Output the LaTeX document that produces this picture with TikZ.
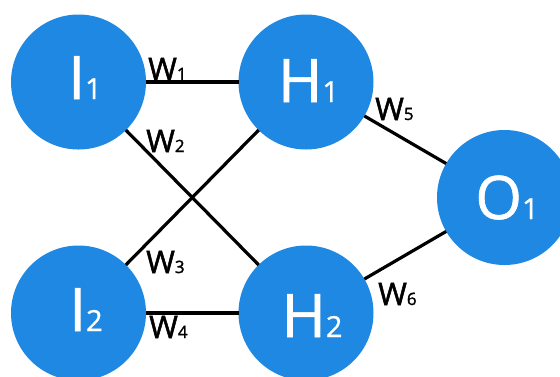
\documentclass[tikz,border=0pt]{standalone}
\usepackage{fontspec}
\setmainfont{Open Sans}
\newfontfamily\wfont[FakeBold=1.6]{Open Sans}
\newfontfamily\nfont[FakeBold=1.0]{Open Sans}
\definecolor{nodeblue}{RGB}{31,136,226}
\begin{document}
\begin{tikzpicture}[x=1pt,y=-1pt,
  neuron/.style={circle,fill=nodeblue,draw=none,minimum size=135pt,inner sep=0pt,outer sep=0pt},
  ntext/.style={text=white,anchor=base,inner sep=0pt,font=\nfont\fontsize{60}{60}\selectfont},
  wtext/.style={text=black,anchor=base west,inner sep=0pt,font=\wfont\fontsize{31}{31}\selectfont},
  conn/.style={line width=3.2pt,black}]
\useasboundingbox (0,0) rectangle (560,376);
\begin{scope}
\clip (0,0) rectangle (560,376);
\node[neuron] (i1) at (78.5,82) {};
\node[neuron] (h1) at (306,82) {};
\node[neuron] (i2) at (78.5,313) {};
\node[neuron] (h2) at (306,313) {};
\node[neuron] (o1) at (504.5,197.5) {};
\draw[conn] (i1.east) -- (h1.west);
\draw[conn] (i2.east) -- (h2.west);
\draw[conn] (i1) -- (h2);
\draw[conn] (i2) -- (h1);
\draw[conn] (h1) -- (o1);
\draw[conn] (h2) -- (o1);
\node[ntext] (ti1) at (85,99) {I{\fontsize{29}{29}\selectfont 1}};
\node[ntext] (th1) at (308.5,102) {H{\fontsize{29}{29}\selectfont 1}};
\node[ntext] (ti2) at (86,331) {I{\fontsize{29}{29}\selectfont 2}};
\node[ntext] (th2) at (312,337) {H{\fontsize{29}{29}\selectfont 2}};
\node[ntext] (to1) at (507,219) {O{\fontsize{29}{29}\selectfont 1}};
\end{scope}
\node[wtext] (w1) at (148,80) {W{\fontsize{17}{17}\selectfont 1}};
\node[wtext] (w2) at (146,152) {W{\fontsize{17}{17}\selectfont 2}};
\node[wtext] (w3) at (146,273) {W{\fontsize{17}{17}\selectfont 3}};
\node[wtext] (w4) at (149,338) {W{\fontsize{17}{17}\selectfont 4}};
\node[wtext] (w5) at (375,120) {W{\fontsize{17}{17}\selectfont 5}};
\node[wtext] (w6) at (378,305) {W{\fontsize{17}{17}\selectfont 6}};
\end{tikzpicture}
\end{document}
